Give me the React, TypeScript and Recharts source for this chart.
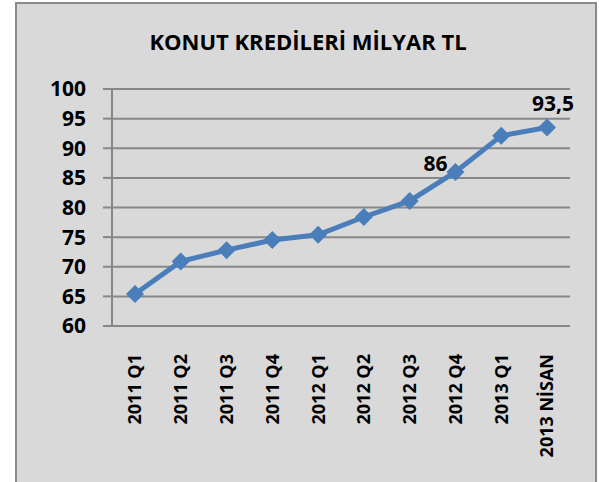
import React from 'react';
import { LineChart, Line, XAxis, YAxis, CartesianGrid, LabelList } from 'recharts';

const categories = ['2011 Q1', '2011 Q2', '2011 Q3', '2011 Q4', '2012 Q1', '2012 Q2', '2012 Q3', '2012 Q4', '2013 Q1', '2013 NİSAN'];
const values = [65.4, 70.9, 72.8, 74.5, 75.4, 78.4, 81.1, 86, 92.1, 93.5];
const pointLabels = ['', '', '', '', '', '', '', '86', '', '93,5'];
const yTicks = [60, 65, 70, 75, 80, 85, 90, 95, 100];
const categoryBoundaries = [0, 1, 2, 3, 4, 5, 6, 7, 8, 9, 10];
const title = 'KONUT KREDİLERİ MİLYAR TL';

const data = categories.map((c, i) => ({ label: c, value: values[i], note: pointLabels[i] }));

const FONT = '"Open Sans", "DejaVu Sans", sans-serif';
const BLUE = '#4a7ebb';
const GRID = '#878787';

const Diamond = (props: any) => {
  const { cx, cy } = props;
  if (cx == null || cy == null) return null;
  const r = 9;
  return <path d={`M${cx},${cy - r}L${cx + r},${cy}L${cx},${cy + r}L${cx - r},${cy}Z`} fill={BLUE} stroke="none" />;
};

const CatTick = (props: any) => {
  const { x, y, payload } = props;
  return (
    <g transform={`translate(${x},${y})`}>
      <text
        transform="rotate(-90)"
        x={-28}
        y={0}
        dy="0.36em"
        textAnchor="end"
        fontFamily={FONT}
        fontWeight={700}
        fontSize={18}
        fill="#000"
      >
        {payload.value}
      </text>
    </g>
  );
};

const PointLabel = (props: any) => {
  const { x, y, value, index } = props;
  if (!value) return null;
  const last = index === categories.length - 1;
  return (
    <text
      x={last ? x + 6 : x - 8}
      y={last ? y - 17 : y - 1}
      textAnchor={last ? 'middle' : 'end'}
      fontFamily={FONT}
      fontWeight={700}
      fontSize={21}
      fill="#000"
    >
      {value}
    </text>
  );
};

export default function App() {
  return (
    <div style={{ position: 'fixed', left: 0, top: 0, width: 599, height: 482, overflow: 'hidden', background: '#fff' }}>
      <div
        style={{
          position: 'absolute',
          left: 15,
          top: 2,
          width: 578,
          height: 500,
          background: '#d9d9d9',
          border: '2px solid #8a8a8a',
        }}
      />
      <div
        style={{
          position: 'absolute',
          left: 16,
          top: 30,
          width: 584,
          textAlign: 'center',
          fontFamily: FONT,
          fontWeight: 700,
          fontSize: 22,
          lineHeight: '22px',
          color: '#000',
          whiteSpace: 'nowrap',
        }}
      >
        {title}
      </div>
      <div style={{ position: 'absolute', left: 0, top: 0 }}>
        <LineChart width={599} height={482} data={data} margin={{ top: 89, right: 29, left: 52, bottom: 36 }}>
          <CartesianGrid vertical={false} stroke={GRID} strokeWidth={2} />
          <XAxis
            xAxisId={0}
            type="number"
            domain={[0, 10]}
            ticks={categoryBoundaries}
            tick={false}
            height={0}
            tickSize={6}
            axisLine={{ stroke: GRID, strokeWidth: 2 }}
            tickLine={{ stroke: GRID, strokeWidth: 2 }}
          />
          <XAxis
            xAxisId="cat"
            dataKey="label"
            type="category"
            height={120}
            axisLine={false}
            tickLine={false}
            tickSize={0}
            tickMargin={0}
            padding={{ left: 23, right: 23 }}
            interval={0}
            tick={<CatTick />}
          />
          <YAxis
            domain={[60, 100]}
            ticks={yTicks}
            width={60}
            tickSize={9}
            tickMargin={17}
            axisLine={{ stroke: GRID, strokeWidth: 2 }}
            tickLine={{ stroke: GRID, strokeWidth: 2 }}
            tick={{ fontFamily: FONT, fontWeight: 700, fontSize: 21, fill: '#000' }}
            interval={0}
          />
          <Line
            xAxisId="cat"
            dataKey="value"
            stroke={BLUE}
            strokeWidth={5}
            dot={<Diamond />}
            activeDot={false}
            isAnimationActive={false}
          >
            <LabelList dataKey="note" content={<PointLabel />} />
          </Line>
        </LineChart>
      </div>
    </div>
  );
}
